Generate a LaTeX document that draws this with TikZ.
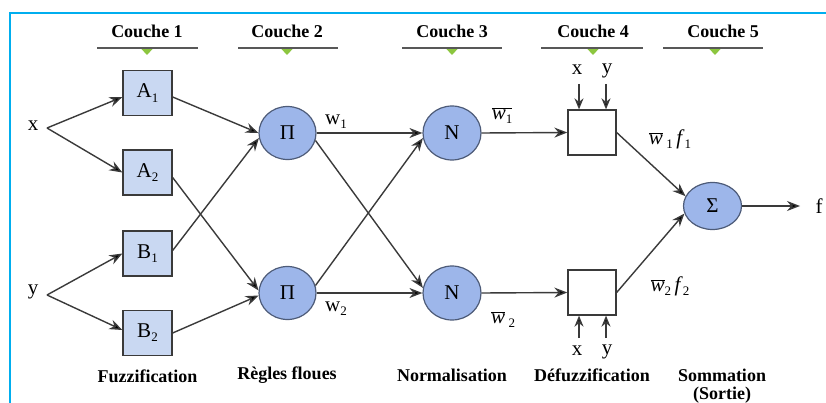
\documentclass[tikz,border=0pt]{standalone}
\usepackage{fontspec}
\setmainfont{Liberation Serif}
\usetikzlibrary{shapes.geometric,arrows.meta}
\definecolor{boxblue}{HTML}{C9D8F2}
\definecolor{circblue}{HTML}{9DB6EA}
\definecolor{circline}{HTML}{4D5B78}
\definecolor{lineg}{HTML}{3A3A3A}
\definecolor{trigreen}{HTML}{8CC63F}
\definecolor{bordercyan}{HTML}{00AEEF}
\newcommand\sbs[1]{\raisebox{-0.2em}{\fontsize{13}{13}\selectfont #1}}
\newcommand\wbar{\ensuremath{\overline{\hbox{\itshape w}}}}
\begin{document}
\begin{tikzpicture}[x=1pt,y=-1pt,
  lbl/.style={font=\fontsize{21}{22}\selectfont, inner sep=0pt},
  ttl/.style={font=\fontsize{18}{20}\selectfont\bfseries, inner sep=0pt, align=center},
  fbox/.style={draw=lineg, fill=boxblue, line width=1.3pt, minimum width=49pt, minimum height=45pt, inner sep=0pt, font=\fontsize{21}{22}\selectfont},
  circ/.style={ellipse, draw=circline, fill=circblue, line width=1.2pt, minimum width=57pt, minimum height=53pt, inner sep=0pt, font=\fontsize{21}{22}\selectfont},
  dbox/.style={draw=lineg, fill=white, line width=1.3pt, minimum width=48pt, minimum height=45pt, inner sep=0pt},
  arr/.style={draw=lineg, line width=1.4pt, -{Stealth[length=13pt,width=10pt,fill=black]}},
  sarr/.style={draw=lineg, line width=1.4pt, -{Stealth[length=11pt,width=9pt,fill=black]}},
  uline/.style={draw=lineg!85, line width=1.6pt},
  tri/.style={fill=trigreen}
]
\useasboundingbox (0,0) rectangle (826,403);
\draw[bordercyan, line width=2pt] (10,403) -- (10,13) -- (826,13);

% layer titles
\node[ttl] (t1) at (147,31) {Couche 1};
\node[ttl] (t2) at (287,31) {Couche 2};
\node[ttl] (t3) at (452,31) {Couche 3};
\node[ttl] (t4) at (593,31) {Couche 4};
\node[ttl] (t5) at (723,31) {Couche 5};
\foreach \c/\a/\b in {147/97/198, 287/238/338, 452/402/502, 593/541/643, 715/663/763}{
  \fill[tri] (\c-6.5,48) -- (\c+6.5,48) -- (\c,55) -- cycle;
  \draw[uline] (\a,48) -- (\b,48);
}

% bottom titles
\node[ttl] (b1) at (147.5,376) {Fuzzification};
\node[ttl] (b2) at (287,375) {Règles floues};
\node[ttl] (b3) at (452,375) {Normalisation};
\node[ttl] (b4) at (592,375) {Défuzzification};
\node[ttl] (b5) at (722,375) {Sommation};
\node[ttl] (b6) at (722,395) {(Sortie)};

% inputs
\node[lbl] (x) at (33,126) {x};
\node[lbl] (y) at (33,292) {y};
\coordinate (xs) at (47,128);
\coordinate (ys) at (47,295);

% layer 1
\node[fbox] (A1) at (147.5,93) {A\sbs{1}};
\node[fbox] (A2) at (147.5,172.5) {A\sbs{2}};
\node[fbox] (B1) at (147.5,253.5) {B\sbs{1}};
\node[fbox] (B2) at (147.5,333) {B\sbs{2}};

% layer 2
\node[circ] (P1) at (287.5,133) {Π};
\node[circ] (P2) at (287.5,293) {Π};
% layer 3
\node[circ, minimum width=58pt, minimum height=54pt] (N1) at (452,133) {N};
\node[circ, minimum width=58pt, minimum height=54pt] (N2) at (452,293) {N};
% layer 4
\node[dbox] (D1) at (592,132.5) {};
\node[dbox] (D2) at (592,292.5) {};
% layer 5
\node[circ, minimum width=58pt, minimum height=47pt] (S) at (712.5,206) {Σ};
\node[lbl] (f) at (819,206) {f};
\coordinate (fo) at (800,206);

% x, y -> layer 1
\draw[arr] (xs) -- ([yshift=-4pt]A1.west);
\draw[arr] (xs) -- (A2.west);
\draw[arr] (ys) -- (B1.west);
\draw[arr] (ys) -- ([yshift=3pt]B2.west);

% layer 1 -> layer 2
\draw[arr] ([yshift=-4pt]A1.east) -- (P1.west);
\draw[arr] ([yshift=-5pt]A2.east) -- (P2.175);
\draw[arr] ([yshift=3pt]B1.east) -- (P1.190);
\draw[arr] (B2.east) -- (P2.185);

% layer 2 -> layer 3
\draw[arr] (P1.east) -- (N1.west);
\draw[arr] (P1.-15) -- (N2.170);
\draw[arr] (P2.15) -- (N1.190);
\draw[arr] (P2.east) -- (N2.west);

% layer 3 -> layer 4
\draw[arr] (N1.east) -- (D1.west);
\draw[arr] (N2.east) -- (D2.west);

% layer 4 -> layer 5
\draw[arr] (D1.east) -- (S.160);
\draw[arr] (D2.east) -- (S.195);
\draw[arr] (S.east) -- (fo);

% x y inputs to defuzz
\coordinate (dx1) at (579,84);
\coordinate (dy1) at (606,84);
\coordinate (dx2) at (579,338);
\coordinate (dy2) at (606,338);
\draw[sarr] (dx1) -- (dx1 |- D1.north);
\draw[sarr] (dy1) -- (dy1 |- D1.north);
\draw[sarr] (dx2) -- (dx2 |- D2.south);
\draw[sarr] (dy2) -- (dy2 |- D2.south);
\node[lbl] (lx1) at (577,70) {x};
\node[lbl] (ly1) at (607,71) {y};
\node[lbl] (lx2) at (577,351) {x};
\node[lbl] (ly2) at (607,352) {y};

% weight labels
\node[lbl] (w1) at (336,122) {w\sbs{1}};
\node[lbl] (w2) at (336,309) {w\sbs{2}};
\node[lbl] (nw1) at (502,116) {\ensuremath{\overline{\hbox{\itshape w\upshape\sbs{1}}}}};
\node[lbl] (nw2) at (503,320) {\wbar\,\sbs{2}};
\node[lbl] (wf1) at (670,139) {\wbar\,\sbs{1}\,\textit{f}\sbs{1}};
\node[lbl] (wf2) at (670,286) {\wbar\sbs{2}\,\textit{f}\sbs{2}};
\end{tikzpicture}
\end{document}
